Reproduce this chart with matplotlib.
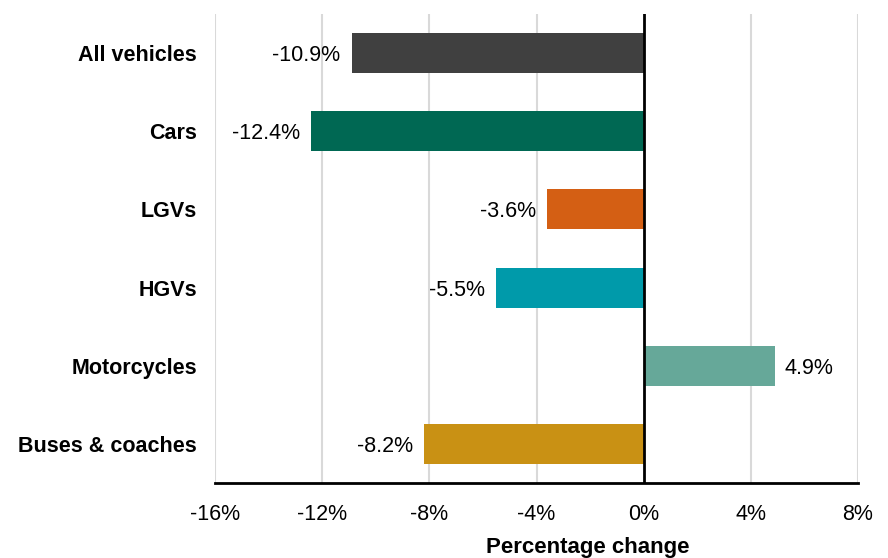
import matplotlib
matplotlib.use("Agg")
import matplotlib.pyplot as plt
from matplotlib.ticker import FuncFormatter

categories = ["All vehicles", "Cars", "LGVs", "HGVs", "Motorcycles", "Buses & coaches"]
values = [-10.9, -12.4, -3.6, -5.5, 4.9, -8.2]
colors = ["#404040", "#006853", "#D45F14", "#009AAA", "#66A899", "#C99114"]
xticks = [-16, -12, -8, -4, 0, 4, 8]

plt.rcParams['font.family'] = ['Liberation Sans', 'DejaVu Sans']

fig = plt.figure(figsize=(8.88, 5.58), dpi=100)
ax = fig.add_axes([215/888, 1-483/558, (858-215)/888, (483-14)/558])

y = list(range(len(categories)))
ax.barh(y, values, height=0.51, color=colors, zorder=3)
ax.set_ylim(len(categories)-0.5, -0.5)
ax.set_xlim(-16, 8)
ax.set_xticks(xticks)
ax.xaxis.set_major_formatter(FuncFormatter(lambda v, p: f"{v:.0f}%"))
ax.set_yticks(y)
ax.set_yticklabels(categories, fontweight='bold', fontsize=15.5)
for lbl in ax.get_yticklabels():
    lbl.set_verticalalignment('center_baseline')
ax.tick_params(axis='y', length=0, pad=13)
ax.tick_params(axis='x', length=0, pad=15, labelsize=15.5)

for i, v in enumerate(values):
    if v < 0:
        ax.annotate(f"{v:.1f}%", (v, i), xytext=(-8, 0), textcoords='offset points',
                    ha='right', va='center_baseline', fontsize=15.5)
    else:
        ax.annotate(f"{v:.1f}%", (v, i), xytext=(7, 0), textcoords='offset points',
                    ha='left', va='center_baseline', fontsize=15.5)

for t in xticks:
    if t != 0:
        ax.axvline(t, color='#d9d9d9', lw=1.5, zorder=1)
ax.axvline(0, color='black', lw=2, zorder=4)
for s in ['top', 'right', 'left']:
    ax.spines[s].set_visible(False)
ax.spines['bottom'].set_linewidth(2)
ax.spines['bottom'].set_zorder(5)

fig.text(588/888, 1-548/558, "Percentage change", ha='center', va='center',
         fontweight='bold', fontsize=16)

fig.savefig("out.png", dpi=100)
